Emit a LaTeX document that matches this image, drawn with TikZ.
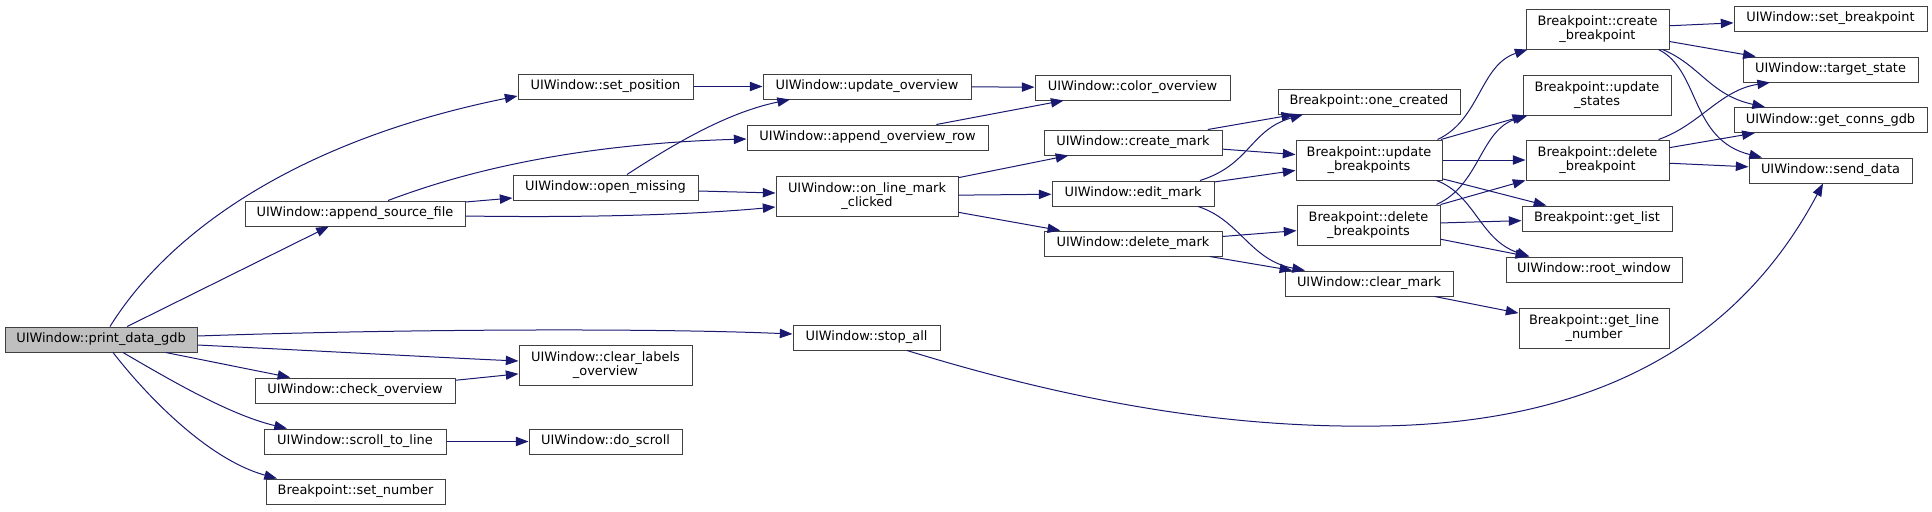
\documentclass[tikz,border=0pt]{standalone}
\usepackage{fontspec}
\setsansfont{DejaVu Sans}
\usetikzlibrary{arrows.meta,calc}
\definecolor{callblue}{HTML}{191970}
\definecolor{boxline}{HTML}{404040}
\definecolor{rootfill}{HTML}{BFBFBF}

\begin{document}
\begin{tikzpicture}[
    x=0.75pt, y=-0.75pt,
    font=\sffamily\fontsize{9.7}{11}\selectfont,
    call/.style={-{Triangle[length=9.5pt,width=7pt]}, line width=0.75pt, draw=callblue},
    fn/.style={
        draw=boxline,
        fill=white,
        line width=0.75pt,
        inner sep=0pt,
        align=center,
        minimum height=18.75pt
    },
    fntwo/.style={fn, minimum height=30pt},
    rootfn/.style={fn, fill=rootfill}
]
\useasboundingbox (0,0) rectangle (1932,511);

\node[rootfn, minimum width=144pt] (p) at (101,339.5) {UIWindow::print\_data\_gdb};

\node[fn, minimum width=165pt] (as) at (355,213.5) {UIWindow::append\_source\_file};
\node[fn, minimum width=150pt] (co) at (355,390.5) {UIWindow::check\_overview};
\node[fn, minimum width=136.5pt] (stl) at (355,441.5) {UIWindow::scroll\_to\_line};
\node[fn, minimum width=134.25pt] (sn) at (355.5,491.5) {Breakpoint::set\_number};

\node[fn, minimum width=131.25pt] (sp) at (605.5,86.5) {UIWindow::set\_position};
\node[fn, minimum width=138.75pt] (om) at (605.5,187.5) {UIWindow::open\_missing};
\node[fntwo, minimum width=129.75pt] (clo) at (605.5,365) {UIWindow::clear\_labels\\\_overview};
\node[fn, minimum width=114.75pt] (ds) at (605.5,441.5) {UIWindow::do\_scroll};

\node[fn, minimum width=156pt] (uo) at (867,86.5) {UIWindow::update\_overview};
\node[fn, minimum width=180.75pt] (aor) at (867.5,137.5) {UIWindow::append\_overview\_row};
\node[fntwo, minimum width=136.5pt] (olmc) at (867,196) {UIWindow::on\_line\_mark\\\_clicked};
\node[fn, minimum width=110.25pt] (sa) at (866.5,337.5) {UIWindow::stop\_all};

\node[fn, minimum width=146.25pt] (col) at (1132.5,87.5) {UIWindow::color\_overview};
\node[fn, minimum width=133.5pt] (cm) at (1133,142.5) {UIWindow::create\_mark};
\node[fn, minimum width=121.5pt] (em) at (1133,193.5) {UIWindow::edit\_mark};
\node[fn, minimum width=133.5pt] (dm) at (1133,243.5) {UIWindow::delete\_mark};

\node[fn, minimum width=136.5pt] (oc) at (1369,101.5) {Breakpoint::one\_created};
\node[fntwo, minimum width=109.5pt] (ub) at (1369,160) {Breakpoint::update\\\_breakpoints};
\node[fntwo, minimum width=107.25pt] (dbs) at (1368.5,225) {Breakpoint::delete\\\_breakpoints};
\node[fn, minimum width=126pt] (clm) at (1369,283.5) {UIWindow::clear\_mark};

\node[fntwo, minimum width=107.25pt] (cb) at (1597.5,29) {Breakpoint::create\\\_breakpoint};
\node[fntwo, minimum width=111pt] (us) at (1597,95) {Breakpoint::update\\\_states};
\node[fntwo, minimum width=107.25pt] (dbp) at (1597.5,160) {Breakpoint::delete\\\_breakpoint};
\node[fn, minimum width=112.5pt] (gl) at (1597,218.5) {Breakpoint::get\_list};
\node[fn, minimum width=132pt] (rw) at (1594,269.5) {UIWindow::root\_window};
\node[fntwo, minimum width=112.5pt] (gln) at (1594,328) {Breakpoint::get\_line\\\_number};

\node[fn, minimum width=144.75pt] (sb) at (1830.5,18.5) {UIWindow::set\_breakpoint};
\node[fn, minimum width=131.25pt] (ts) at (1830.5,69.5) {UIWindow::target\_state};
\node[fn, minimum width=144.75pt] (gcg) at (1830.5,120) {UIWindow::get\_conns\_gdb};
\node[fn, minimum width=122.25pt] (sd) at (1830.5,170.5) {UIWindow::send\_data};

\draw[call] ($(p.north)+(9,0)$) .. controls (170,230) and (300,140) .. ($(sp.west)+(0,9.5)$);
\draw[call] (p) -- (as);
\draw[call] ($(p.east)+(0,-3.5)$) .. controls (400,329) and (650,328) .. ($(sa.west)+(0,-3.5)$);
\draw[call] ($(p.east)+(0,5.5)$) .. controls (300,350) and (450,358) .. ($(clo.west)+(0,-4)$);
\draw[call] (p) -- (co);
\draw[call] ($(p.south)+(22,0)$) .. controls (170,380) and (230,415) .. ($(stl.north)+(-68,0)$);
\draw[call] ($(p.south)+(12,0)$) .. controls (150,400) and (210,460) .. ($(sn.north)+(-78.5,0)$);

\draw[call] ($(as.north)+(33,0)$) .. controls (430,185) and (540,145) .. ($(aor.west)+(0,1.5)$);
\draw[call] ($(as.east)+(0,-11.5)$) -- ($(om.west)+(0,10.5)$);
\draw[call] ($(as.east)+(0,2.5)$) .. controls (600,218) and (700,214) .. ($(olmc.west)+(0,11)$);
\draw[call] (co) -- (clo);
\draw[call] (stl) -- (ds);

\draw[call] (sp) -- (uo);
\draw[call] ($(om.north)+(21.5,0)$) .. controls (680,140) and (730,112) .. ($(uo.south)+(-77,0)$);
\draw[call] ($(om.east)+(0,3.5)$) -- ($(olmc.west)+(0,-3)$);

\draw[call] (uo) -- (col);
\draw[call] (aor) -- (col);
\draw[call] (olmc) -- (cm);
\draw[call] (olmc) -- (em);
\draw[call] (olmc) -- (dm);
\draw[call] ($(sa.south)+(40.5,0)$) .. controls (1100,410) and (1250,428) .. (1380,426)
    .. controls (1600,423) and (1740,340) .. ($(sd.south)+(-7.5,0)$);

\draw[call] (cm) -- (oc);
\draw[call] (cm) -- (ub);
\draw[call] ($(em.north)+(67,0)$) .. controls (1250,165) and (1250,130) .. ($(oc.south)+(-66,0)$);
\draw[call] (em) -- (ub);
\draw[call] ($(em.south)+(65,0)$) .. controls (1240,220) and (1250,260) .. ($(clm.north)+(-64,0)$);
\draw[call] (dm) -- (dbs);
\draw[call] (dm) -- (clm);

\draw[call] ($(ub.north east)+(-5,0)$) .. controls (1480,120) and (1480,65) .. ($(cb.south west)+(2,0)$);
\draw[call] (ub) -- (us);
\draw[call] (ub) -- (dbp);
\draw[call] (ub) -- (gl);
\draw[call] ($(ub.south east)+(-6,0)$) .. controls (1475,195) and (1480,240) .. ($(rw.north west)+(24,0)$);
\draw[call] ($(dbs.north east)+(-4,0)$) .. controls (1480,185) and (1480,130) .. ($(us.south west)+(5,0)$);
\draw[call] (dbs) -- (dbp);
\draw[call] (dbs) -- (gl);
\draw[call] (dbs) -- (rw);
\draw[call] (clm) -- (gln);

\draw[call] (cb) -- (sb);
\draw[call] (cb) -- (ts);
\draw[call] ($(cb.south east)+(-7,0)$) .. controls (1700,65) and (1710,95) .. ($(gcg.north)+(-65.5,0)$);
\draw[call] ($(cb.south east)+(-11,0)$) .. controls (1700,70) and (1690,140) .. ($(sd.north)+(-68.5,0)$);
\draw[call] ($(dbp.north east)+(-11,0)$) .. controls (1700,125) and (1720,90) .. ($(ts.south)+(-60.5,0)$);
\draw[call] (dbp) -- (gcg);
\draw[call] (dbp) -- (sd);
\end{tikzpicture}
\end{document}
